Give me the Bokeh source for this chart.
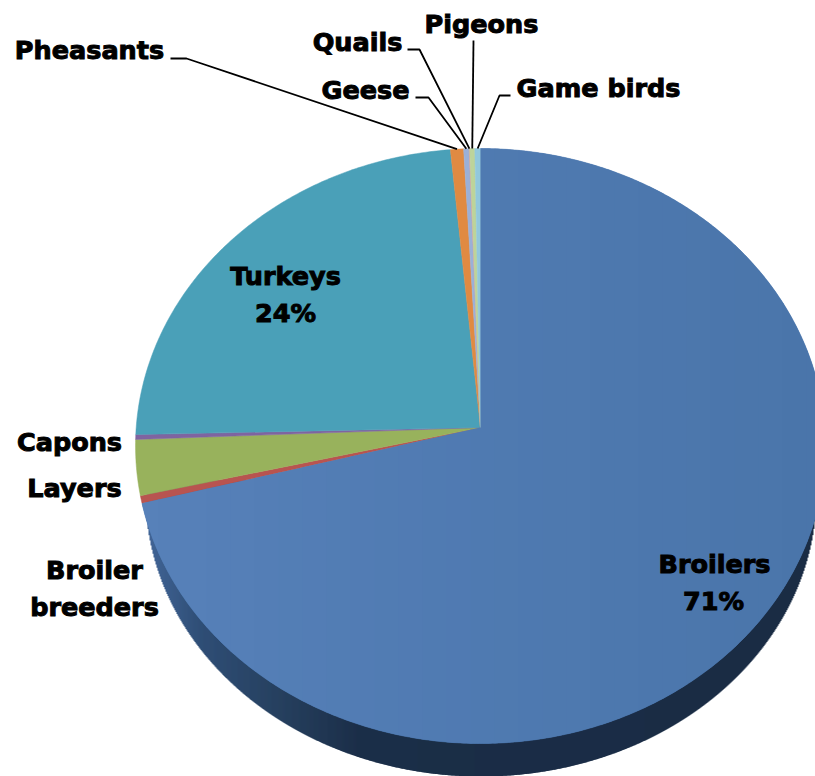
import numpy as np
from bokeh.plotting import figure
from bokeh.models import ColumnDataSource
from bokeh.core.properties import value
from bokeh.embed import file_html
from bokeh.resources import INLINE

# Data, clockwise from twelve o'clock
categories = ["Broilers", "Broiler breeders", "Layers", "Capons", "Turkeys",
              "Pheasants", "Geese", "Quails", "Pigeons", "Game birds"]
shares = [70.95, 0.41, 3.00, 0.26, 23.90, 0.65, 0.27, 0.03, 0.25, 0.28]
colors = ["#4f7ab1", "#b85450", "#98b25c", "#7f64a0", "#4aa0b8",
          "#e08a42", "#9bb0d8", "#d9a09e", "#bdd49a", "#92c8dc"]

# Layout of the perspective disc (screen pixels of the 815x776 page)
CX, APEX_Y, R = 480.0, 427.0, 344.3
PERSP, VERT = 0.0622, -269.8
FONT = value("DejaVu Sans")

def rim(frac):
    a = 2 * np.pi * np.asarray(frac, dtype=float)
    u, v = np.sin(a), np.cos(a)
    d = 1 + PERSP * v
    return CX + R * u / d, (VERT * v + APEX_Y) / d

fr = np.array(shares) / sum(shares)
edges = np.concatenate([[0], np.cumsum(fr)])

def sector(i):
    n = max(4, int(fr[i] * 720))
    x, y = rim(np.linspace(edges[i], edges[i + 1], n))
    return np.r_[CX, x], np.r_[APEX_Y, y]

p = figure(width=815, height=776, x_range=(0, 815), y_range=(776, 0),
           output_backend="svg", toolbar_location=None, min_border=0)
p.axis.visible = False
p.grid.visible = False
p.outline_line_color = None
p.background_fill_color = "#ffffff"

def lerp_hex(stops, x):
    xs = [s[0] for s in stops]
    rgb = [np.interp(x, xs, [int(s[1][k:k + 2], 16) for s in stops]) for k in (1, 3, 5)]
    return "#%02x%02x%02x" % tuple(int(round(c)) for c in rgb)

# Extruded side: lower ellipse drawn as vertical strips, disc goes on top
side_stops = [(140, "#44689a"), (200, "#2f4e76"), (280, "#26405f"), (360, "#1b2e48"), (815, "#1a2c44")]
bx, bc, brx, bry = 480.0, 494.0, 335.0, 282.0
xs = np.arange(146, 815, 1.0)
mid = xs + 0.5
ybot = bc + bry * np.sqrt(np.clip(1 - ((mid - bx) / brx) ** 2, 0, 1))
keep = np.abs(mid - bx) < brx
p.quad(left=xs[keep], right=xs[keep] + 2, top=np.full(keep.sum(), 480.0), bottom=ybot[keep],
       fill_color=[lerp_hex(side_stops, m) for m in mid[keep]], line_color=None)

# Slices
sx, sy = zip(*[sector(i) for i in range(len(shares))])
p.patches(xs=list(sx), ys=list(sy), fill_color=colors, line_color=colors, line_width=0.5)

# Soft horizontal shading of the largest slice
def clip(px, py, x0, keep_right):
    ox, oy = [], []
    n = len(px)
    for i in range(n):
        ax, ay, bx_, by_ = px[i], py[i], px[(i + 1) % n], py[(i + 1) % n]
        ina = ax >= x0 if keep_right else ax <= x0
        inb = bx_ >= x0 if keep_right else bx_ <= x0
        if ina:
            ox.append(ax); oy.append(ay)
        if ina != inb:
            t = (x0 - ax) / (bx_ - ax)
            ox.append(x0); oy.append(ay + t * (by_ - ay))
    return ox, oy

blue_stops = [(136, "#5781b9"), (480, "#4f7ab1"), (815, "#4a75aa")]
bxs, bys, bcs = [], [], []
for x0 in range(134, 815, 24):
    cx_, cy_ = sector(0)
    a, b = clip(list(cx_), list(cy_), x0, True)
    a, b = clip(a, b, x0 + 25, False)
    if a:
        bxs.append(a); bys.append(b); bcs.append(lerp_hex(blue_stops, x0 + 12))
p.patches(xs=bxs, ys=bys, fill_color=bcs, line_color=None)

# Leader lines: text-side elbows, ending on each slice's rim
leaders = {"Pheasants": [(170, 58), (186, 58)],
           "Quails": [(407, 49), (419, 49)],
           "Geese": [(415, 97), (428, 97)],
           "Pigeons": [(473, 40)],
           "Game birds": [(510, 95), (499, 95)]}
lx, ly = [], []
for name, pts in leaders.items():
    i = categories.index(name)
    ex, ey = rim((edges[i] + edges[i + 1]) / 2)
    lx.append([q[0] for q in pts] + [float(ex)])
    ly.append([q[1] for q in pts] + [float(ey)])
p.multi_line(xs=lx, ys=ly, line_color="#000000", line_width=1.8)

# Labels
labels = [("Pheasants", 89, 49), ("Quails", 357, 41), ("Pigeons", 481, 23), ("Geese", 365, 89),
          ("Game birds", 598, 87), ("Capons", 69, 441), ("Layers", 74, 487),
          ("Broiler", 94, 569), ("breeders", 94, 606),
          ("Turkeys", 285, 275), ("%d%%" % round(shares[4]), 285, 312),
          ("Broilers", 714, 563), ("%d%%" % round(shares[0]), 713, 600)]
src = ColumnDataSource(dict(t=[l[0] for l in labels], x=[l[1] for l in labels], y=[l[2] for l in labels]))
r = p.text(x="x", y="y", text="t", source=src, text_font=FONT, text_font_style="bold",
           text_font_size="25.5px", text_color="#000000", text_align="center", text_baseline="alphabetic")
r.glyph.text_outline_color = "#000000"

open("out.html", "w").write(file_html(p, INLINE))
